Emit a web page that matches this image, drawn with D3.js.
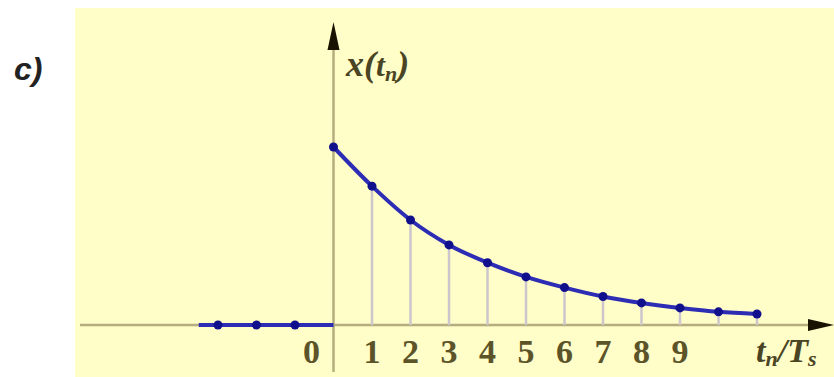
<!DOCTYPE html>
<html>
<head>
<meta charset="utf-8">
<script src="https://cdn.jsdelivr.net/npm/d3@7"></script>
<style>
  body { margin: 0; background: #fff; }
  svg { display: block; }
</style>
</head>
<body>
<div class="chart"></div>
<script>
// sample indices and values
const negN = [-3, -2, -1];
const posN = [0, 1, 2, 3, 4, 5, 6, 7, 8, 9, 10, 11];
const posValues = [1, 0.78, 0.59, 0.45, 0.35, 0.27, 0.21, 0.16, 0.124, 0.096, 0.074, 0.062];
const tickLabels = [0, 1, 2, 3, 4, 5, 6, 7, 8, 9];

const width = 834;
const height = 377;

const svg = d3.select(".chart")
    .append("svg")
    .attr("width", width)
    .attr("height", height);

// background panel
svg.append("rect")
    .attr("x", 75).attr("y", 8)
    .attr("width", width - 75).attr("height", height - 8)
    .attr("fill", "#fffdc8");

const x = d3.scaleLinear().domain([-3, 11]).range([218, 757]);
const y = d3.scaleLinear().domain([0, 1]).range([325, 147]);

const axisColor = "#b5ad7e";
const blue = "#2c2cb4";

// x axis
svg.append("line")
    .attr("x1", 80).attr("x2", 812)
    .attr("y1", y(0)).attr("y2", y(0))
    .attr("stroke", axisColor).attr("stroke-width", 2.5);
svg.append("path")
    .attr("d", `M${834},${y(0)} L${808},${y(0) - 6} L${808},${y(0) + 6} Z`)
    .attr("fill", "#1a1200");

// y axis
svg.append("line")
    .attr("x1", x(0)).attr("x2", x(0))
    .attr("y1", 372).attr("y2", 40)
    .attr("stroke", axisColor).attr("stroke-width", 2.5);
svg.append("path")
    .attr("d", `M${x(0)},22 L${x(0) - 6},50 L${x(0) + 6},50 Z`)
    .attr("fill", "#1a1200");

// stems
svg.append("g")
    .selectAll("line")
    .data(posN.slice(1))
    .join("line")
    .attr("x1", d => x(d)).attr("x2", d => x(d))
    .attr("y1", y(0))
    .attr("y2", (d, i) => y(posValues[i + 1]))
    .attr("stroke", "#cdc6cc")
    .attr("stroke-width", 2.5);

// zero segment for negative n
svg.append("line")
    .attr("x1", x(-3.5)).attr("x2", x(0))
    .attr("y1", y(0)).attr("y2", y(0))
    .attr("stroke", blue).attr("stroke-width", 4);

// decaying curve
const line = d3.line()
    .x(d => x(d[0]))
    .y(d => y(d[1]))
    .curve(d3.curveMonotoneX);
svg.append("path")
    .attr("d", line(posN.map((n, i) => [n, posValues[i]])))
    .attr("fill", "none")
    .attr("stroke", blue)
    .attr("stroke-width", 4);

// sample dots
const dots = negN.map(n => [n, 0]).concat(posN.map((n, i) => [n, posValues[i]]));
svg.append("g")
    .selectAll("circle")
    .data(dots)
    .join("circle")
    .attr("cx", d => x(d[0]))
    .attr("cy", d => y(d[1]))
    .attr("r", 4.5)
    .attr("fill", "#10108c");

// tick labels
svg.append("g")
    .selectAll("text")
    .data(tickLabels)
    .join("text")
    .attr("x", d => x(d) + (d === 0 ? -22 : 0))
    .attr("y", 363)
    .attr("text-anchor", "middle")
    .attr("font-family", "Liberation Serif")
    .attr("font-weight", "bold")
    .attr("font-size", 34)
    .attr("fill", "#5c5428")
    .text(d => d);

// axis labels
const ylab = svg.append("text")
    .attr("x", 346).attr("y", 76)
    .attr("font-family", "Liberation Serif")
    .attr("font-style", "italic")
    .attr("font-weight", "bold")
    .attr("font-size", 36)
    .attr("fill", "#4a4424");
ylab.append("tspan").text("x(");
ylab.append("tspan").text("t").attr("font-size", 32);
ylab.append("tspan").text("n").attr("font-size", 22).attr("dy", 5);
ylab.append("tspan").text(")").attr("dy", -5);

const xlab = svg.append("text")
    .attr("x", 756).attr("y", 362)
    .attr("font-family", "Liberation Serif")
    .attr("font-style", "italic")
    .attr("font-weight", "bold")
    .attr("font-size", 34)
    .attr("fill", "#4a4424");
xlab.append("tspan").text("t");
xlab.append("tspan").text("n").attr("font-size", 22).attr("dy", 4);
xlab.append("tspan").text("/T").attr("dy", -4);
xlab.append("tspan").text("s").attr("font-size", 22).attr("dy", 4);

svg.append("text")
    .attr("x", 14).attr("y", 80)
    .attr("font-family", "Liberation Sans")
    .attr("font-style", "italic")
    .attr("font-weight", "bold")
    .attr("font-size", 32)
    .attr("fill", "#222")
    .text("c)");
</script>
</body>
</html>
